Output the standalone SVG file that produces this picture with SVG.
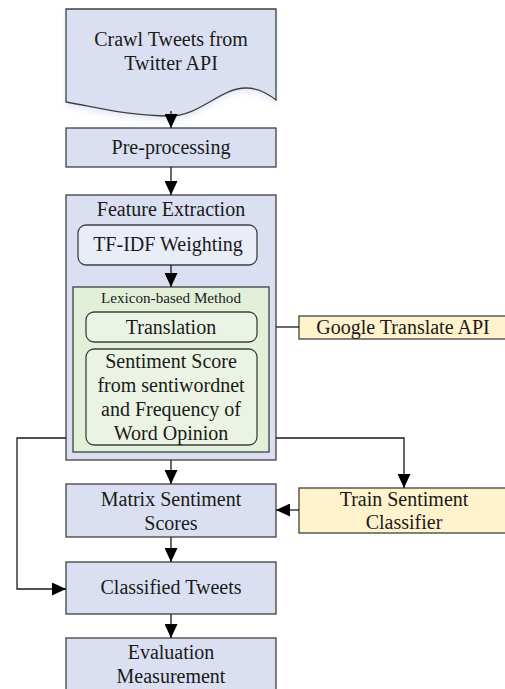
<svg xmlns="http://www.w3.org/2000/svg" width="505" height="689" viewBox="0 0 505 689">
  <style>
    .blue { fill: #dae0f2; stroke: #404040; stroke-width: 1.3; }
    .pale { fill: #e9edf8; stroke: #404040; stroke-width: 1.3; }
    .green { fill: #e2efd9; stroke: #404040; stroke-width: 1.3; }
    .lgreen { fill: #ebf3e4; stroke: #404040; stroke-width: 1.3; }
    .yellow { fill: #fff2cc; stroke: #404040; stroke-width: 1.3; }
    text { font-family: "Liberation Serif", "Times New Roman", serif; font-size: 20px; fill: #1a1a1a; text-anchor: middle; }
    .small { font-size: 14px; }
    .conn { fill: none; stroke: #1a1a1a; stroke-width: 1.3; }
  </style>
  <defs>
    <marker id="arrow" viewBox="0 0 14 13" refX="14" refY="6.5" markerWidth="14" markerHeight="13" markerUnits="userSpaceOnUse" orient="auto">
      <path d="M0,0 L14,6.5 L0,13 Z" fill="#000"/>
    </marker>
    <filter id="glow" x="-10%" y="-10%" width="120%" height="130%">
      <feGaussianBlur stdDeviation="3"/>
    </filter>
  </defs>

  <g id="crawl">
    <path d="M66,9 H276 V100 C266,92 256,88 246,88 C220,88 200,116 170,116 C130,116 100,108 66,102 Z" fill="#c8d2ee" opacity="0.5" transform="translate(0,4)" filter="url(#glow)"/>
    <path class="blue" d="M66,9 H276 V100 C266,92 256,88 246,88 C220,88 200,116 170,116 C130,116 100,108 66,102 Z"/>
    <text x="171" y="46">Crawl Tweets from</text>
    <text x="171" y="70">Twitter API</text>
  </g>

  <g id="preprocessing">
    <rect class="blue" x="66" y="128" width="210" height="39"/>
    <text x="171" y="154">Pre-processing</text>
  </g>

  <g id="feature-extraction">
    <rect class="blue" x="66" y="195" width="210" height="265"/>
    <text x="171" y="216">Feature Extraction</text>
  </g>

  <g id="tfidf">
    <rect class="pale" x="78" y="225" width="179" height="40" rx="8"/>
    <text x="168" y="251">TF-IDF Weighting</text>
  </g>

  <g id="lexicon">
    <rect class="green" x="73" y="287" width="196" height="165"/>
    <text class="small" x="171" y="303" textLength="140" lengthAdjust="spacingAndGlyphs">Lexicon-based Method</text>
  </g>

  <g id="translation">
    <rect class="lgreen" x="86" y="312" width="171" height="30" rx="8"/>
    <text x="171" y="334">Translation</text>
  </g>

  <g id="sentiment-score">
    <rect class="lgreen" x="86" y="349" width="171" height="96" rx="8"/>
    <text x="171" y="368">Sentiment Score</text>
    <text x="171" y="392">from sentiwordnet</text>
    <text x="171" y="416">and Frequency of</text>
    <text x="171" y="440">Word Opinion</text>
  </g>

  <g id="google-translate">
    <rect class="yellow" x="299" y="316" width="208" height="23"/>
    <text x="403" y="334">Google Translate API</text>
  </g>

  <g id="train-classifier">
    <rect class="yellow" x="299" y="488" width="208" height="45"/>
    <text x="404" y="506">Train Sentiment</text>
    <text x="404" y="529">Classifier</text>
  </g>

  <g id="matrix">
    <rect class="blue" x="66" y="484" width="210" height="53"/>
    <text x="171" y="506">Matrix Sentiment</text>
    <text x="171" y="530">Scores</text>
  </g>

  <g id="classified">
    <rect class="blue" x="66" y="562" width="210" height="52"/>
    <text x="171" y="594">Classified Tweets</text>
  </g>

  <g id="evaluation">
    <rect class="blue" x="66" y="638" width="210" height="60"/>
    <text x="171" y="659">Evaluation</text>
    <text x="171" y="683">Measurement</text>
  </g>

  <g id="connectors">
    <path class="conn" d="M171,111 V128" marker-end="url(#arrow)"/>
    <path class="conn" d="M171,167 V195" marker-end="url(#arrow)"/>
    <path class="conn" d="M171,265 V287" marker-end="url(#arrow)"/>
    <path class="conn" d="M276,327 H299"/>
    <path class="conn" d="M276,438 H404 V488" marker-end="url(#arrow)"/>
    <path class="conn" d="M66,438 H17 V589 H66" marker-end="url(#arrow)"/>
    <path class="conn" d="M299,510 H276" marker-end="url(#arrow)"/>
    <path class="conn" d="M171,460 V484" marker-end="url(#arrow)"/>
    <path class="conn" d="M171,537 V562" marker-end="url(#arrow)"/>
    <path class="conn" d="M171,614 V638" marker-end="url(#arrow)"/>
  </g>
</svg>
